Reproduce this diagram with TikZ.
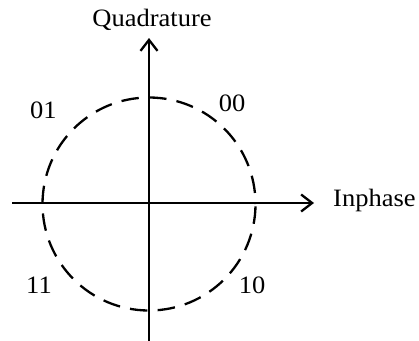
\documentclass[tikz,border=0pt]{standalone}
\usepackage{fontspec}
\setmainfont{Liberation Serif}
\newfontfamily\labfont[FakeStretch=1.06]{Liberation Serif}
\usetikzlibrary{arrows.meta}
\begin{document}
\begin{tikzpicture}[x=1pt,y=-1pt,
  axis/.style={line width=2.3pt, -{Straight Barb[length=11pt,width=17pt,line width=2.3pt]}},
  ring/.style={line width=2.3pt, dash pattern=on 17.5pt off 10.25pt, dash phase=16.7pt},
  lbl/.style={font=\labfont\fontsize{25}{29}\selectfont, inner sep=0pt, anchor=base}]
\useasboundingbox (0,0) rectangle (419,340);
\coordinate (o) at (149,204);
\coordinate (xs) at (12,203);
\coordinate (xe) at (314,203);
\coordinate (ys) at (149,342);
\coordinate (ye) at (149,38);
\draw[ring] (o) circle[radius=106.5pt];
\draw[axis] (xs) -- (xe);
\draw[axis] (ys) -- (ye);
\node[lbl] (q) at (152,26.7) {Quadrature};
\node[lbl, anchor=base west] (i) at (333,206.7) {Inphase};
\node[lbl] (l01) at (43.3,118.3) {01};
\node[lbl] (l00) at (232,111.7) {00};
\node[lbl] (l11) at (39,293) {11};
\node[lbl] (l10) at (252,293) {10};
\end{tikzpicture}
\end{document}
